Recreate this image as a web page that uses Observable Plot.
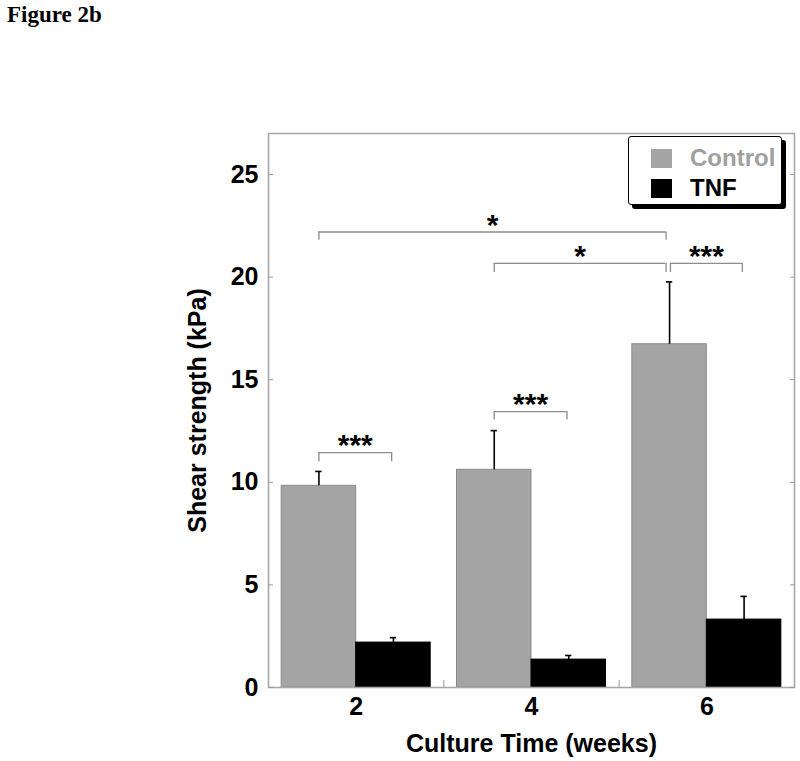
<!DOCTYPE html>
<html><head><meta charset="utf-8">
<script src="https://cdn.jsdelivr.net/npm/d3@7"></script>
<script src="https://cdn.jsdelivr.net/npm/@observablehq/plot@0.6"></script>
<style>
body{margin:0;background:#fff;}
#wrap{position:relative;width:800px;height:761px;}
#title{position:absolute;left:7px;top:2px;font:bold 23px "Liberation Serif",serif;color:#000;}
#legend{position:absolute;left:628px;top:136px;width:154px;height:69px;border:1.5px solid #000;border-radius:3px;box-shadow:4px 4px 0 #000;background:#fff;box-sizing:border-box;font:bold 24px "Liberation Sans",Arial,sans-serif;}
.item{position:absolute;left:22px;height:20px;display:flex;align-items:center;}
.sw{width:21px;height:19px;margin-right:18px;}
</style></head><body>
<div id="wrap"><div id="chart"></div><div id="title">Figure 2b</div><div id="legend"></div></div>
<script>
const weeks = [2, 4, 6];
const series = ["Control", "TNF"];
const seriesColors = ["#a4a4a4", "#000000"];
const controlMean = [9.83, 10.61, 16.73];
const controlSE = [0.70, 1.91, 3.04];
const tnfMean = [2.19, 1.36, 3.31];
const tnfSE = [0.24, 0.20, 1.13];
const yTicks = [0, 5, 10, 15, 20, 25];
// significance brackets: from (week, series) to (week, series), height, leg bottom, label
const bracketFrom = [[2, "Control"], [4, "Control"], [6, "Control"], [2, "Control"], [4, "Control"]];
const bracketTo = [[6, "Control"], [6, "Control"], [6, "TNF"], [2, "TNF"], [4, "TNF"]];
const bracketY = [22.2, 20.67, 20.67, 11.45, 13.45];
const bracketLegY = [21.8, 20.22, 20.22, 11.0, 13.04];
const bracketLabel = ["*", "*", "***", "***", "***"];

const barW = 0.85;
const center = (w, s) => s === "Control" ? w - barW / 2 : w + barW / 2;

const rows = [];
weeks.forEach((w, i) => {
  rows.push({week: w, series: "Control", mean: controlMean[i], se: controlSE[i]});
  rows.push({week: w, series: "TNF", mean: tnfMean[i], se: tnfSE[i]});
});
rows.forEach(d => {
  d.x1 = d.series === "Control" ? d.week - barW : d.week;
  d.x2 = d.series === "Control" ? d.week : d.week + barW;
  d.cx = center(d.week, d.series);
});
const brackets = bracketFrom.map((f, i) => {
  const t = bracketTo[i];
  let a = center(f[0], f[1]), b = center(t[0], t[1]);
  // small gap where two brackets meet on the same bar
  if (t[0] === 6 && t[1] === "Control") b -= 0.04;
  if (f[0] === 6 && f[1] === "Control") a += 0.01;
  if (t[1] === "TNF") b -= 0.02;
  return {x1: a, x2: b, y: bracketY[i], yl: bracketLegY[i], label: bracketLabel[i], mid: (a + b) / 2};
});
const legs = brackets.flatMap(d => [{x: d.x1, y1: d.yl, y2: d.y}, {x: d.x2, y1: d.yl, y2: d.y}]);
const cap = 0.036;

const chart = Plot.plot({
  width: 800, height: 761,
  marginLeft: 268, marginRight: 6, marginTop: 133, marginBottom: 74,
  style: {fontFamily: "'Liberation Sans', Arial, sans-serif", fontSize: "25px", fontWeight: "bold", color: "#000", background: "#fff"},
  x: {domain: [1, 7]},
  y: {domain: [0, 27]},
  color: {domain: series, range: seriesColors},
  marks: [
    Plot.rect(rows, {x1: "x1", x2: "x2", y1: 0, y2: "mean", fill: "series", stroke: d => d.series === "Control" ? "#8a8a8a" : "#000", strokeWidth: 1}),
    Plot.ruleX(rows, {x: "cx", y1: "mean", y2: d => d.mean + d.se, stroke: "#000", strokeWidth: 1.6}),
    Plot.ruleY(rows, {x1: d => d.cx - cap, x2: d => d.cx + cap, y: d => d.mean + d.se, stroke: "#000", strokeWidth: 1.6}),
    Plot.ruleY(brackets, {x1: "x1", x2: "x2", y: "y", stroke: "#8c8c8c", strokeWidth: 1.3}),
    Plot.ruleX(legs, {x: "x", y1: "y1", y2: "y2", stroke: "#8c8c8c", strokeWidth: 1.3}),
    Plot.text(brackets, {x: "mid", y: "y", text: "label", dy: -7, fontSize: 30, fontWeight: "bold", fill: "#000"}),
    Plot.frame({stroke: "#a8a8a8", strokeWidth: 1.6}),
    Plot.axisY({anchor: "left", ticks: yTicks, tickSize: 5, dx: 5, tickFormat: () => "", stroke: "#999", label: null}),
    Plot.axisY({anchor: "right", ticks: yTicks, tickSize: 5, dx: -5, tickFormat: () => "", stroke: "#999", label: null}),
    Plot.axisY({anchor: "left", ticks: yTicks, tickSize: 0, tickPadding: 10, label: "Shear strength (kPa)", labelAnchor: "center", labelArrow: "none", labelOffset: 80}),
    Plot.axisX({anchor: "bottom", ticks: [3, 5], tickSize: 7, dy: -7, tickFormat: () => "", stroke: "#999", label: null}),
    Plot.axisX({anchor: "bottom", ticks: weeks, tickSize: 0, tickPadding: 10, tickFormat: d => String(d), label: "Culture Time (weeks)", labelAnchor: "center", labelArrow: "none", labelOffset: 64})
  ]
});
document.getElementById("chart").appendChild(chart);

const legend = document.getElementById("legend");
series.forEach((s, i) => {
  const item = document.createElement("div");
  item.className = "item";
  item.style.top = (i === 0 ? 11 : 41) + "px";
  item.innerHTML = `<div class="sw" style="background:${seriesColors[i]}"></div><span style="color:${seriesColors[i] === "#a4a4a4" ? "#a0a0a0" : "#000"}">${s}</span>`;
  legend.appendChild(item);
});
</script>
</body></html>
